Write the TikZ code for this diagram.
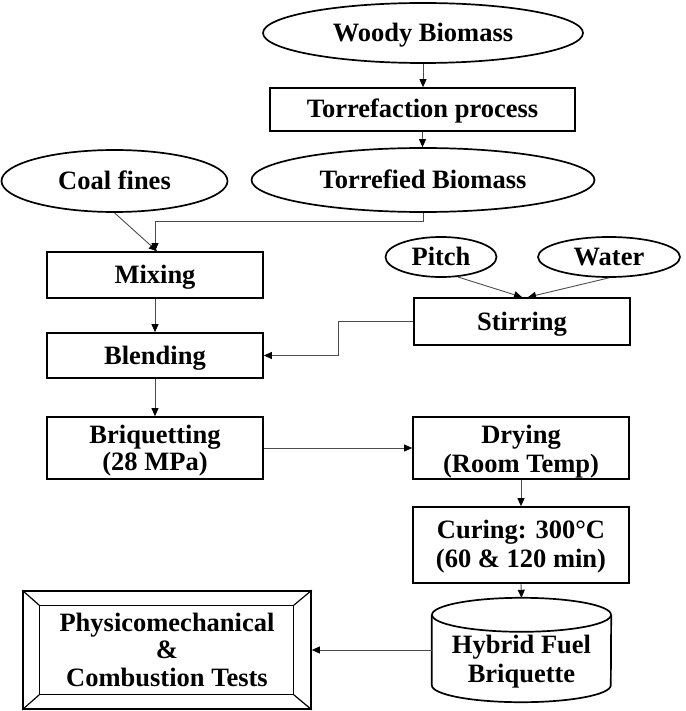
\documentclass[tikz,border=0pt]{standalone}
\usepackage{fontspec}
\setmainfont{Liberation Serif}
\usetikzlibrary{shapes.geometric,arrows.meta}
\begin{document}
\begin{tikzpicture}[x=1pt,y=-1pt,
  txt/.style={font=\fontsize{26.5}{28}\selectfont\bfseries, align=center, inner sep=0pt},
  one/.style={text height=17pt, text depth=0pt},
  oval/.style={txt, one, ellipse, draw, line width=1.7pt},
  box/.style={txt, rectangle, draw, line width=1.7pt},
  conn/.style={draw=black!70, line width=0.9pt, -{Triangle[length=8pt,width=7pt,color=black]}}
]
\useasboundingbox (0,0) rectangle (685,711);

\node[oval, minimum width=320pt, minimum height=60pt] (woody) at (423,33) {Woody Biomass};
\node[box, one, minimum width=305pt, minimum height=43pt] (torr) at (422.5,109.5) {Torrefaction process};
\node[oval, minimum width=343pt, minimum height=64pt] (tb) at (423,180) {Torrefied Biomass};
\node[oval, minimum width=226pt, minimum height=62pt] (coal) at (114.5,181) {Coal fines};

\node[box, one, minimum width=216pt, minimum height=46pt] (mix) at (155,275) {Mixing};
\node[box, one, minimum width=216pt, minimum height=45pt] (blend) at (155,355.5) {Blending};
\node[box, text height=44pt, text depth=0pt, minimum width=216pt, minimum height=62pt, font=\fontsize{26.5}{27}\selectfont\bfseries] (briq) at (155,448) {Briquetting\\(28 MPa)};

\node[oval, minimum width=111pt, minimum height=40pt] (pitch) at (441,257) {Pitch};
\node[oval, minimum width=142pt, minimum height=40pt] (water) at (609,257) {Water};
\node[box, one, minimum width=216pt, minimum height=47pt] (stir) at (522,321.5) {Stirring};

\node[box, text height=48pt, text depth=0pt, minimum width=216pt, minimum height=62pt, font=\fontsize{26.5}{29}\selectfont\bfseries] (dry) at (521,448) {Drying\\(Room Temp)};
\node[box, text height=44pt, text depth=0pt, minimum width=216pt, minimum height=76pt, font=\fontsize{26.5}{29}\selectfont\bfseries] (cure) at (521,545) {Curing: 300°C\\(60 \& 120 min)};

% cylinder
\node[txt, text height=64pt, text depth=0pt, minimum width=179pt, minimum height=104pt,
  font=\fontsize{26.5}{29}\selectfont\bfseries] (hyb) at (521.5,650) {Hybrid Fuel\\Briquette};
\draw[line width=1.7pt] (hyb.north) ++(0,17) ellipse [x radius=89.5pt, y radius=17pt];
\draw[line width=1.7pt] ([yshift=-17pt]hyb.north west) -- ([yshift=17pt]hyb.south west)
  arc[start angle=180, end angle=360, x radius=89.5pt, y radius=17pt] -- ([yshift=-17pt]hyb.north east);

% framed box
\node[txt, draw, line width=1.7pt, text height=72pt, text depth=0pt, minimum width=288pt, minimum height=118pt,
  font=\fontsize{26.5}{27.5}\selectfont\bfseries] (test) at (167,650) {Physicomechanical\\\&\\Combustion Tests};
\draw[line width=1.2pt] ([xshift=17pt,yshift=-15pt]test.north west) coordinate (inw)
  rectangle ([xshift=-18pt,yshift=15pt]test.south east) coordinate (ise);
\draw[line width=1.2pt] (test.north west) -- (inw);
\draw[line width=1.2pt] (test.south east) -- (ise);
\draw[line width=1.2pt] (test.north east) -- (ise |- inw);
\draw[line width=1.2pt] (test.south west) -- (inw |- ise);

% connectors
\draw[conn] (woody.south) -- (woody.south |- torr.north);
\draw[conn] (torr.south) -- (torr.south |- tb.north);
\draw[conn] (coal.south) -- ([xshift=2pt]mix.north);
\draw[conn] (tb.south) -- ++(0,9) -| (mix.north);
\draw[conn] (mix.south) -- (blend.north);
\draw[conn] (blend.south) -- (briq.north);
\draw[conn] (pitch.-50) -- (stir.north);
\draw[conn] (water.south) -- ([xshift=6pt]stir.north);
\draw[conn] (stir.west) -- ++(-75,0) |- (blend.east);
\draw[conn] (briq.east) -- (dry.west);
\draw[conn] (dry.south) -- (cure.north);
\draw[conn] (cure.south) -- (hyb.north);
\draw[conn] (hyb.west) -- (test.east);
\end{tikzpicture}
\end{document}
